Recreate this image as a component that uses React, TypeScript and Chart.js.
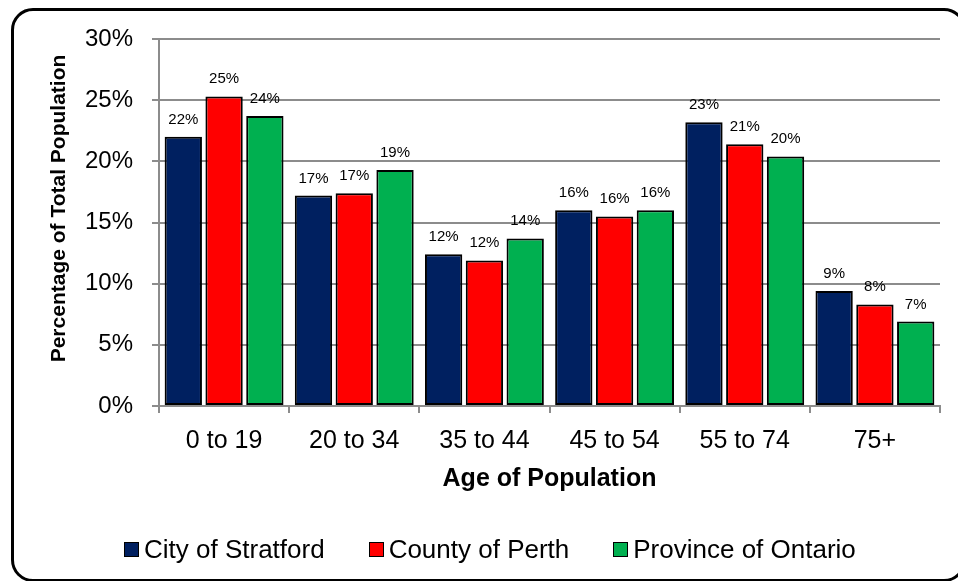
import React, { useEffect, useRef } from "react";
import { Chart, registerables } from "chart.js";

Chart.register(...registerables);

// Age groups along the x axis
const ageGroups = ["0 to 19", "20 to 34", "35 to 44", "45 to 54", "55 to 74", "75+"];

// Share of total population (%) per age group
const stratford = [22.0, 17.2, 12.4, 16.0, 23.2, 9.4];
const perth = [25.3, 17.4, 11.9, 15.5, 21.4, 8.3];
const ontario = [23.7, 19.3, 13.7, 16.0, 20.4, 6.9];

const seriesNames = ["City of Stratford", "County of Perth", "Province of Ontario"];
const seriesColors = ["#002060", "#FF0000", "#00B050"];

// Y axis range and step (%)
const yMin = 0;
const yMax = 30;
const yStep = 5;

const FONT = "'Liberation Sans', Arial, Helvetica, sans-serif";
const GRID = "#8c8c8c";

// Rounded percentage written above each bar
const valueLabels = {
  id: "valueLabels",
  afterDatasetsDraw(chart: any) {
    const { ctx } = chart;
    ctx.save();
    ctx.font = `15px ${FONT}`;
    ctx.fillStyle = "#000";
    ctx.textAlign = "center";
    ctx.textBaseline = "alphabetic";
    chart.data.datasets.forEach((ds: any, i: number) => {
      const meta = chart.getDatasetMeta(i);
      meta.data.forEach((bar: any, j: number) => {
        const v = ds.data[j] as number;
        ctx.fillText(`${Math.round(v)}%`, bar.x, bar.y - 13);
      });
    });
    ctx.restore();
  },
};

// Vertical axis title, drawn a little above the plot's centre line
const yAxisTitle = {
  id: "yAxisTitle",
  afterDraw(chart: any) {
    const { ctx, chartArea } = chart;
    ctx.save();
    ctx.translate(59, (chartArea.top + chartArea.bottom) / 2 - 14);
    ctx.rotate(-Math.PI / 2);
    ctx.font = `bold 21px ${FONT}`;
    ctx.fillStyle = "#000";
    ctx.textAlign = "center";
    ctx.textBaseline = "middle";
    ctx.fillText("Percentage of Total Population", 0, 0);
    ctx.restore();
  },
};

export default function App() {
  const canvasRef = useRef<HTMLCanvasElement | null>(null);

  useEffect(() => {
    if (!canvasRef.current) return;
    const series = [stratford, perth, ontario];
    const chart = new Chart(canvasRef.current, {
      type: "bar",
      data: {
        labels: ageGroups,
        datasets: series.map((data, i) => ({
          label: seriesNames[i],
          data,
          backgroundColor: seriesColors[i],
          borderColor: "#000",
          borderWidth: 2,
          borderSkipped: false,
          categoryPercentage: 0.94,
          barPercentage: 0.915,
        })),
      },
      options: {
        animation: false,
        responsive: false,
        devicePixelRatio: 1,
        layout: { padding: { left: 0, top: 39, right: 18, bottom: 87 } },
        plugins: {
          legend: { display: false },
          tooltip: { enabled: false },
        },
        scales: {
          x: {
            offset: true,
            grid: {
              offset: true,
              drawOnChartArea: false,
              drawTicks: true,
              tickLength: 7,
              color: GRID,
              lineWidth: 2,
            },
            border: { color: GRID, width: 2 },
            ticks: {
              color: "#000",
              font: { family: FONT, size: 25 },
              padding: 13,
              maxRotation: 0,
              autoSkip: false,
            },
            title: {
              display: true,
              text: "Age of Population",
              color: "#000",
              font: { family: FONT, size: 25, weight: "bold" },
              padding: 0,
            },
            afterFit: (s: any) => {
              s.height = 88;
            },
          },
          y: {
            min: yMin,
            max: yMax,
            ticks: {
              stepSize: yStep,
              callback: (v: any) => `${v}%`,
              color: "#000",
              font: { family: FONT, size: 24 },
              padding: 19,
            },
            grid: { color: GRID, lineWidth: 2, tickLength: 7 },
            border: { color: GRID, width: 2 },
            afterFit: (s: any) => {
              s.width = 159;
            },
          },
        },
      },
      plugins: [valueLabels, yAxisTitle],
    } as any);
    return () => chart.destroy();
  }, []);

  return (
    <div
      style={{
        position: "fixed",
        left: 0,
        top: 0,
        width: 958,
        height: 581,
        overflow: "hidden",
        background: "#fff",
      }}
    >
      <div
        style={{
          position: "absolute",
          left: 11,
          top: 8,
          width: 955,
          height: 574,
          border: "3px solid #000",
          borderRadius: 22,
          boxSizing: "border-box",
        }}
      />
      <canvas
        ref={canvasRef}
        width={958}
        height={581}
        style={{ position: "absolute", left: 0, top: 0, width: 958, height: 581 }}
      />
      <div
        style={{
          position: "absolute",
          left: 124,
          top: 549,
          transform: "translateY(-50%)",
          display: "flex",
          alignItems: "center",
          fontFamily: FONT,
          fontSize: 26,
          lineHeight: 1,
          color: "#000",
          whiteSpace: "nowrap",
        }}
      >
        {seriesNames.map((name, i) => (
          <div
            key={name}
            style={{ display: "flex", alignItems: "center", marginRight: i < seriesNames.length - 1 ? 44 : 0 }}
          >
            <span
              style={{
                display: "inline-block",
                width: 15,
                height: 15,
                boxSizing: "border-box",
                background: seriesColors[i],
                border: "1.5px solid #000",
                marginRight: 5,
              }}
            />
            <span>{name}</span>
          </div>
        ))}
      </div>
    </div>
  );
}
